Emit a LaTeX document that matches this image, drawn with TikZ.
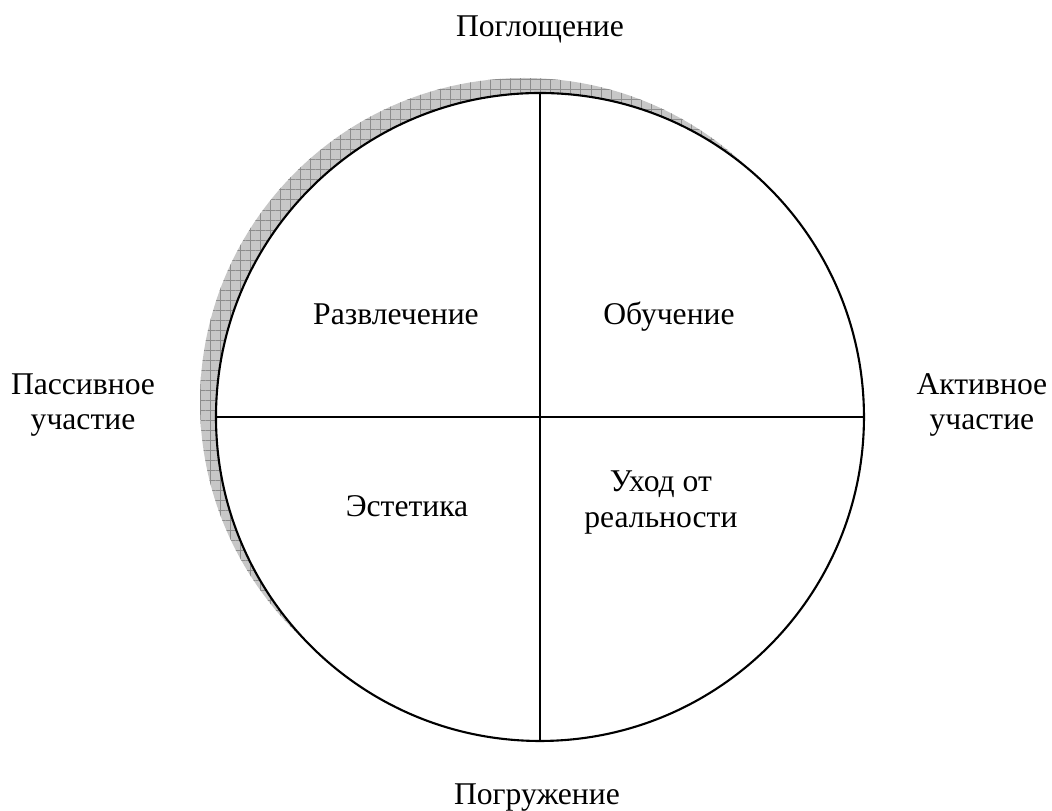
\documentclass[tikz,border=0pt]{standalone}
\usepackage{fontspec}
\setmainfont{Liberation Serif}
\usetikzlibrary{patterns.meta}
\tikzset{
	lbl/.style={align=center, anchor=base, inner sep=0pt, font=\fontsize{12}{13.4}\selectfont},
	shadowfill/.style={fill=black!22, draw=none},
	shadowhatch/.style={pattern={Hatch[angle=0, distance=3.8pt, line width=0.35pt]}, pattern color=black!45, draw=none}
}
\begin{document}
\begin{tikzpicture}
	\useasboundingbox (-7.2,-5.253) rectangle (6.827,5.56);
	% shadow of the circle
	\fill[shadowfill] (-0.213,0.2) circle (4.32);
	\fill[shadowhatch] (-0.213,0.2) circle (4.32);
	\node[circle, draw, fill=white, line width=0.8pt, minimum size=8.64cm, inner sep=0pt] (wheel) at (0,0) {};
	\draw[line width=0.8pt] (wheel.north) -- (wheel.south);
	\draw[line width=0.8pt] (wheel.west) -- (wheel.east);
	% axis labels (base = last line)
	\node[lbl] (absorb) at (0,5.067) {Поглощение};
	\node[lbl] (immerse) at (-0.04,-5.173) {Погружение};
	\node[lbl] (passive) at (-6.093,-0.173) {Пассивное\\участие};
	\node[lbl] (active) at (5.893,-0.173) {Активное\\участие};
	% quadrants
	\node[lbl] (fun) at (-1.92,1.227) {Развлечение};
	\node[lbl] (edu) at (1.72,1.227) {Обучение};
	\node[lbl] (esth) at (-1.773,-1.333) {Эстетика};
	\node[lbl] (escape) at (1.613,-1.467) {Уход от\\реальности};
\end{tikzpicture}
\end{document}
